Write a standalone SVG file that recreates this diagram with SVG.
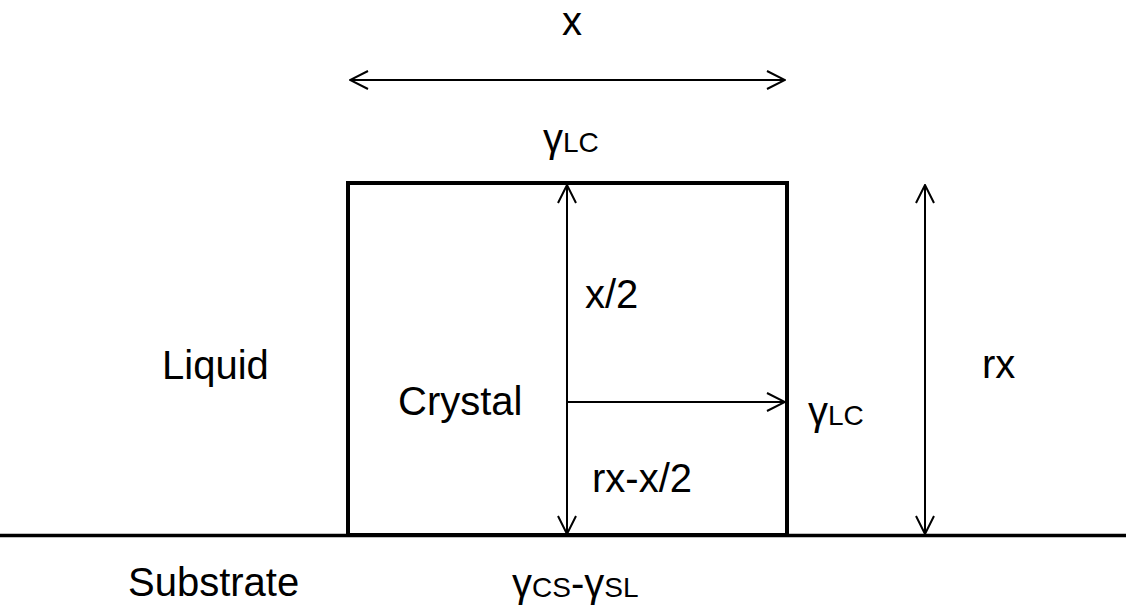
<svg xmlns="http://www.w3.org/2000/svg" width="1126" height="607" viewBox="0 0 1126 607">
<defs>
<style>
text{font-family:"Liberation Sans",Arial,sans-serif;font-size:40px;fill:#000}
.sub{font-size:28px}
.conn{stroke:#000;stroke-width:2;fill:none}
</style>
<marker id="ah" viewBox="0 0 20 20" refX="19" refY="10" markerWidth="20" markerHeight="20" markerUnits="userSpaceOnUse" orient="auto-start-reverse">
<path d="M1,1 L19,10 L1,19" fill="none" stroke="#000" stroke-width="2"/>
</marker>
</defs>
<rect width="1126" height="607" fill="#fff"/>
<g id="substrate-line"><line x1="0" y1="535.5" x2="1126" y2="535.5" stroke="#000" stroke-width="3.5"/></g>
<g id="crystal"><rect x="348" y="183" width="439" height="352" fill="none" stroke="#000" stroke-width="4"/></g>
<g id="connectors">
<line class="conn" x1="350" y1="80" x2="785" y2="80" marker-start="url(#ah)" marker-end="url(#ah)"/>
<line class="conn" x1="567" y1="185" x2="567" y2="534" marker-start="url(#ah)" marker-end="url(#ah)"/>
<line class="conn" x1="567" y1="402" x2="785" y2="402" marker-end="url(#ah)"/>
<line class="conn" x1="925" y1="185" x2="925" y2="534" marker-start="url(#ah)" marker-end="url(#ah)"/>
</g>
<g id="labels">
<text x="572" y="35" text-anchor="middle">x</text>
<text x="543" y="152">γ<tspan class="sub">LC</tspan></text>
<text x="162" y="379">Liquid</text>
<text x="398" y="415">Crystal</text>
<text x="585" y="308">x/2</text>
<text x="592" y="492">rx-x/2</text>
<text x="808" y="425">γ<tspan class="sub">LC</tspan></text>
<text x="982" y="378">rx</text>
<text x="128" y="596">Substrate</text>
<text x="512" y="597">γ<tspan class="sub">CS</tspan>-γ<tspan class="sub">SL</tspan></text>
</g>
</svg>
